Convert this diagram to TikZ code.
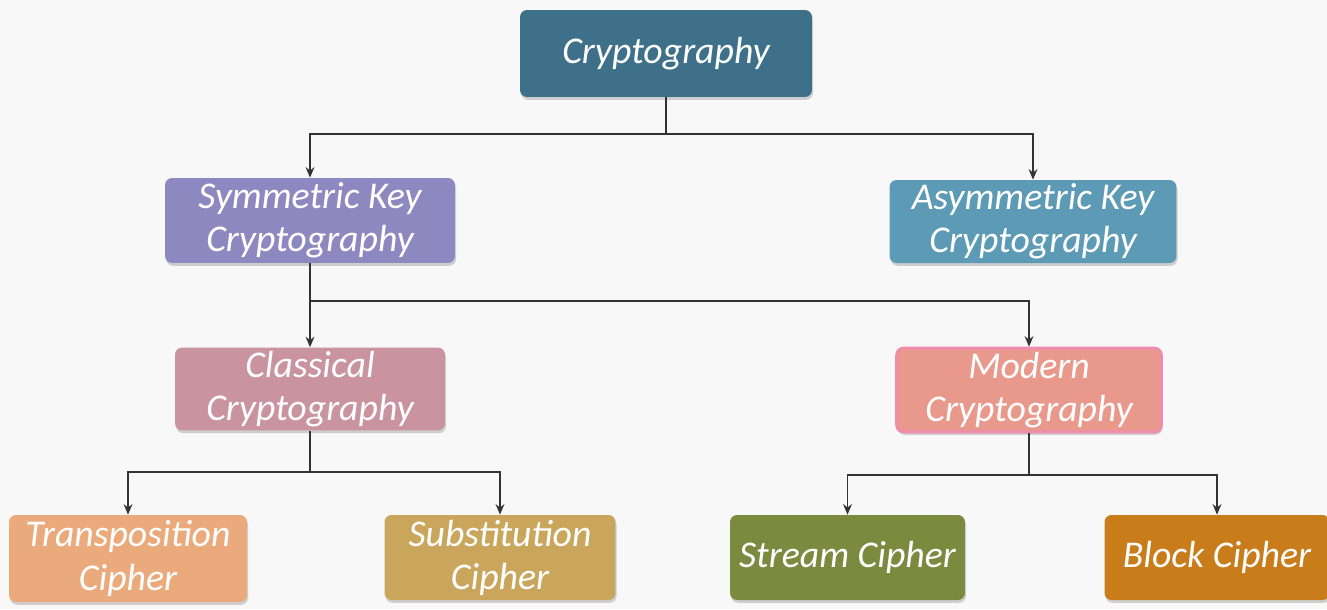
\documentclass[tikz,border=0pt]{standalone}
\usepackage{fontspec}
\setmainfont{Carlito}
\usetikzlibrary{arrows.meta,shadows}
\definecolor{bgc}{HTML}{F8F8F8}
\definecolor{cCrypto}{HTML}{3E7189}
\definecolor{cSym}{HTML}{8E88C0}
\definecolor{cAsym}{HTML}{5C9AB5}
\definecolor{cClass}{HTML}{C9939F}
\definecolor{cModern}{HTML}{E9998C}
\definecolor{cModernB}{HTML}{F08AAE}
\definecolor{cTrans}{HTML}{EBAA7C}
\definecolor{cSubst}{HTML}{C9A65C}
\definecolor{cStream}{HTML}{7B8A3E}
\definecolor{cBlock}{HTML}{C97D1A}
\definecolor{lineC}{HTML}{333333}
\begin{document}
\begin{tikzpicture}[x=0.02cm,y=-0.02cm,
  box/.style={rectangle, rounded corners=4pt, text=white, align=center,
    font=\fontsize{21.5}{24.5}\selectfont\itshape, inner sep=2pt,
    drop shadow={shadow xshift=0.6pt, shadow yshift=-1.6pt, opacity=0.35}},
  conn/.style={draw=lineC, line width=1.1pt},
  arr/.style={conn, -{Stealth[length=6pt,width=5pt]}}]
\fill[bgc] (0,0) rectangle (1327,609);
\useasboundingbox (0,0) rectangle (1327,609);
\node[box, fill=cCrypto, minimum width=5.84cm, minimum height=1.74cm] (crypto) at (666,53.5) {Cryptography};
\node[box, fill=cSym, minimum width=5.8cm, minimum height=1.7cm] (sym) at (310,220.5) {Symmetric Key\\Cryptography};
\node[box, fill=cAsym, minimum width=5.74cm, minimum height=1.66cm] (asym) at (1033,221.5) {Asymmetric Key\\Cryptography};
\node[box, fill=cClass, minimum width=5.4cm, minimum height=1.64cm] (class) at (310,389) {Classical\\Cryptography};
\node[box, fill=cModern, draw=cModernB, line width=1.5pt, minimum width=5.3cm, minimum height=1.68cm] (modern) at (1029,390) {Modern\\Cryptography};
\node[box, fill=cTrans, minimum width=4.76cm, minimum height=1.74cm] (trans) at (128,558.5) {Transposition\\Cipher};
\node[box, fill=cSubst, minimum width=4.62cm, minimum height=1.7cm] (subst) at (500,557.5) {Substitution\\Cipher};
\node[box, fill=cStream, minimum width=4.7cm, minimum height=1.7cm] (stream) at (847.5,557.5) {Stream Cipher};
\node[box, fill=cBlock, minimum width=4.5cm, minimum height=1.7cm] (block) at (1217,557.5) {Block Cipher};
% connectors
\coordinate (j1) at (666,134);
\coordinate (j2) at (310,301);
\coordinate (j3) at (310,472);
\coordinate (j4) at (1029,475);
\draw[conn] (crypto.south) -- (j1);
\draw[arr] (j1) -| (sym.north);
\draw[arr] (j1) -| (asym.north);
\draw[arr] (sym.south) -- (class.north);
\draw[arr] (j2) -| (modern.north);
\draw[conn] (class.south) -- (j3);
\draw[arr] (j3) -| (trans.north);
\draw[arr] (j3) -| (subst.north);
\draw[conn] (modern.south) -- (j4);
\draw[arr] (j4) -| (stream.north);
\draw[arr] (j4) -| (block.north);
\end{tikzpicture}
\end{document}
